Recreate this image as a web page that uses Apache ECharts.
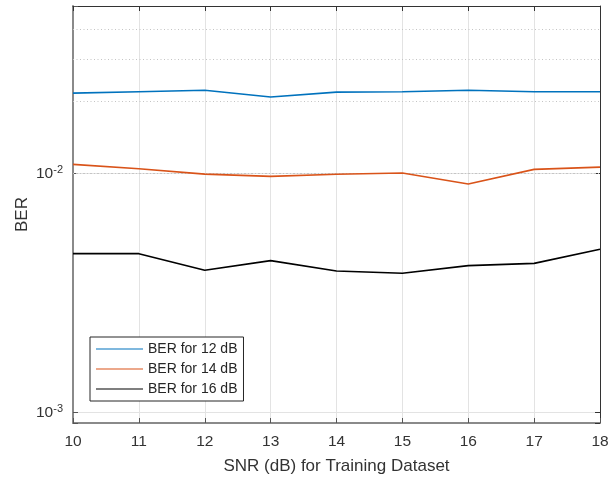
<!DOCTYPE html>
<html>
<head>
<meta charset="utf-8">
<script src="https://cdn.jsdelivr.net/npm/echarts@6/dist/echarts.min.js"></script>
<style>html,body{margin:0;padding:0;background:#fff;}#c{width:612px;height:477px;}</style>
</head>
<body>
<div id="c"></div>
<script>
var snr = [10, 11, 12, 13, 14, 15, 16, 17, 18];
var seriesNames = ['BER for 12 dB', 'BER for 14 dB', 'BER for 16 dB'];
var ber12 = [0.0216, 0.0219, 0.0222, 0.0208, 0.0218, 0.0219, 0.0222, 0.0219, 0.0219];
var ber14 = [0.01087, 0.01042, 0.0099, 0.00969, 0.00988, 0.0100, 0.0090, 0.01036, 0.01059];
var ber16 = [0.00460, 0.00460, 0.00392, 0.00430, 0.00389, 0.00381, 0.00410, 0.00419, 0.00480];
var yMin = 0.0009, yMax = 0.05;
var minorGrid = [0.002, 0.003, 0.004, 0.005, 0.006, 0.007, 0.008, 0.009, 0.02, 0.03, 0.04];
var colors = ['#0072BD', '#D95319', '#000000'];

function pairs(ys) { return snr.map(function (x, i) { return [x, ys[i]]; }); }
function logLabel(v) {
  var l = Math.log10(v), e = Math.round(l);
  if (Math.abs(l - e) > 1e-6) return '';
  return '{b|10}{s|' + e + '}';
}
var txt = '#333333';
var ff = 'Liberation Sans, Arial, sans-serif';
var chart = echarts.init(document.getElementById('c'), null, {renderer: 'canvas'});
var dataSets = [ber12, ber14, ber16];
var series = dataSets.map(function (d, i) {
  var s = {
    name: seriesNames[i], type: 'line', data: pairs(d), symbol: 'none',
    lineStyle: {width: 1.6, color: colors[i]}, itemStyle: {color: colors[i]},
    animation: false, z: 5
  };
  if (i === 0) {
    s.markLine = {
      silent: true, symbol: 'none', animation: false, label: {show: false},
      lineStyle: {color: '#c4c4c4', width: 1, type: [1, 2.5]},
      data: minorGrid.map(function (v) { return {yAxis: v}; }), z: 1
    };
  }
  return s;
});
chart.setOption({
  backgroundColor: '#fff',
  animation: false,
  grid: {left: 73, right: 12, top: 6, bottom: 54, containLabel: false, outerBoundsMode: 'none'},
  xAxis: [{
    type: 'value', min: 10, max: 18, interval: 1,
    name: 'SNR (dB) for Training Dataset', nameLocation: 'middle', nameGap: 35, nameMoveOverlap: false,
    nameTextStyle: {color: txt, fontSize: 17, fontFamily: ff},
    axisLine: {lineStyle: {color: '#8a8a8a', width: 2}},
    axisTick: {inside: true, length: 5, lineStyle: {color: '#555'}},
    axisLabel: {color: txt, fontSize: 15.5, margin: 11, fontFamily: ff},
    splitLine: {show: true, lineStyle: {color: '#e3e3e3', width: 1}}
  }, {
    type: 'value', min: 10, max: 18, interval: 1, position: 'top',
    axisLine: {show: true, lineStyle: {color: '#333', width: 1}},
    axisTick: {inside: true, length: 5, lineStyle: {color: '#333'}},
    axisLabel: {show: false}, splitLine: {show: false}
  }],
  yAxis: [{
    type: 'log', logBase: 10, min: yMin, max: yMax,
    name: 'BER', nameLocation: 'middle', nameGap: 42, nameRotate: 90, nameMoveOverlap: false,
    nameTextStyle: {color: txt, fontSize: 17, fontFamily: ff},
    axisLine: {show: true, lineStyle: {color: '#8a8a8a', width: 2}},
    axisTick: {inside: true, length: 5, lineStyle: {color: '#555'}},
    axisLabel: {
      color: txt, margin: 10, formatter: logLabel,
      rich: {
        b: {fontSize: 15.5, color: txt, fontFamily: ff, verticalAlign: 'bottom', lineHeight: 18, padding: [10, 0, 0, 0]},
        s: {fontSize: 11, color: txt, fontFamily: ff, verticalAlign: 'top', lineHeight: 12}
      }
    },
    splitLine: {show: true, lineStyle: {color: '#e3e3e3', width: 1}}
  }, {
    type: 'log', logBase: 10, min: yMin, max: yMax, position: 'right',
    axisLine: {show: true, lineStyle: {color: '#333', width: 1}},
    axisTick: {inside: true, length: 5, lineStyle: {color: '#333'}},
    axisLabel: {show: false}, splitLine: {show: false}
  }],
  legend: {
    orient: 'vertical', left: 90, top: 337,
    padding: [5, 6, 5, 6], itemGap: 6, itemWidth: 47, itemHeight: 14,
    borderColor: '#262626', borderWidth: 1, backgroundColor: '#fff',
    textStyle: {color: '#262626', fontSize: 14, fontFamily: ff},
    data: seriesNames, icon: 'path://M0,6.5L47,6.5L47,7.5L0,7.5Z'
  },
  series: series
});
</script>
</body>
</html>
